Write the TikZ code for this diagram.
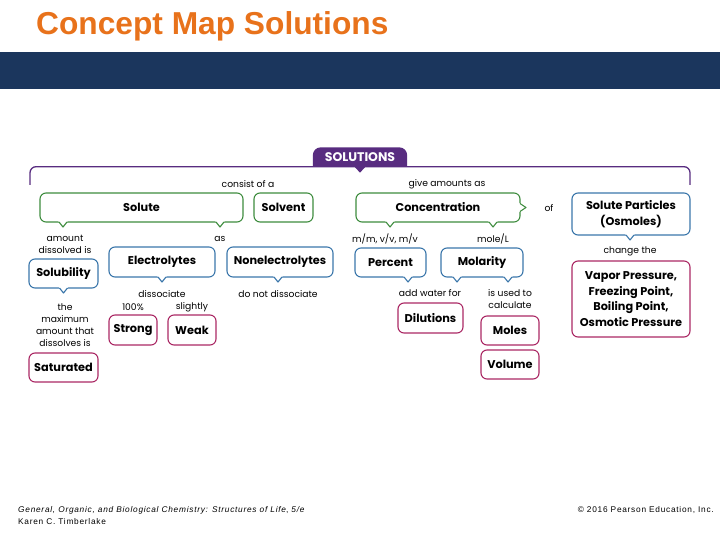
\documentclass[tikz,border=0pt]{standalone}
\usepackage{fontspec}
\setmainfont{Liberation Sans}
\newfontfamily\mapfont{Poppins}
\newfontfamily\footfont[LetterSpace=9]{Liberation Sans}
\usetikzlibrary{calc,backgrounds}

\definecolor{titleorange}{RGB}{232,114,27}
\definecolor{bandblue}{RGB}{27,54,93}
\definecolor{mapgreen}{RGB}{62,140,62}
\definecolor{mapblue}{RGB}{58,118,170}
\definecolor{mappink}{RGB}{170,40,100}
\definecolor{mappurple}{RGB}{88,44,128}

\tikzset{
	concept/.style={draw, rounded corners=6pt, line width=1.1pt, outer sep=0pt, inner sep=1pt, align=center, font=\mapfont\bfseries\fontsize{11.3}{15.5}\selectfont},
	greenbox/.style={concept, draw=mapgreen},
	bluebox/.style={concept, draw=mapblue},
	pinkbox/.style={concept, draw=mappink},
	linklabel/.style={inner sep=0pt, align=center, font=\mapfont\fontsize{9.2}{12}\selectfont},
}

% bottom pointer of a callout: node, offset from its south, colour
\newcommand{\notch}[3]{%
	\coordinate (tip) at ($(#1.south)+(#2,0)$);
	\fill[white] ($(tip)+(-4.6,-0.8)$) -- ($(tip)+(0,5.2)$) -- ($(tip)+(4.6,-0.8)$) -- cycle;
	\draw[#3, line width=1.1pt, line join=round] ($(tip)+(-4,0)$) -- ($(tip)+(0,5)$) -- ($(tip)+(4,0)$);
}
% right pointer of a callout: node, colour
\newcommand{\sidenotch}[2]{%
	\coordinate (tip) at (#1.east);
	\fill[white] ($(tip)+(-0.8,-4.6)$) -- ($(tip)+(6.2,0)$) -- ($(tip)+(-0.8,4.6)$) -- cycle;
	\draw[#2, line width=1.1pt, line join=round] ($(tip)+(0,-4)$) -- ($(tip)+(6,0)$) -- ($(tip)+(0,4)$);
}

\begin{document}
\begin{tikzpicture}[x=1pt,y=-1pt]
	\useasboundingbox (0,0) rectangle (720,540);

	% header and footer
	\node[anchor=base west, inner sep=0pt, text=titleorange, font=\bfseries\fontsize{31.7}{36}\selectfont] (title) at (36,35) {Concept Map Solutions};
	\fill[bandblue] (0,52) rectangle (720,89);
	\node[anchor=base west, inner sep=0pt, align=left, font=\footfont\fontsize{8.3}{12}\selectfont] (book) at (18,524) {\textit{General, Organic, and Biological Chemistry: Structures of Life}, \textit{5/e}\\Karen C. Timberlake};
	\node[anchor=base east, inner sep=0pt, font=\footfont\fontsize{8.3}{10}\selectfont] (copyright) at (714,512) {\textcopyright{} 2016 Pearson Education, Inc.};

	% top of the map
	\node[inner sep=0pt, minimum width=94pt, minimum height=19pt, text=white, font=\mapfont\bfseries\fontsize{12.5}{13}\selectfont] (solutions) at (360,157) {SOLUTIONS};
	\begin{scope}[on background layer]
		\fill[mappurple] (solutions.south west) [rounded corners=8pt] -- (solutions.north west) -- (solutions.north east) [sharp corners] -- (solutions.south east) -- cycle;
	\end{scope}
	\fill[mappurple] ($(solutions.south)+(-5.5,0)$) -- ($(solutions.south)+(0,6)$) -- ($(solutions.south)+(5.5,0)$) -- cycle;
	\coordinate (bracketL) at (30,185);
	\coordinate (bracketR) at (690,185);
	\draw[mappurple, line width=1.3pt, rounded corners=6pt] (bracketL) |- (solutions.south) -| (bracketR);

	% concepts
	\node[greenbox, minimum width=203pt, minimum height=29pt] (solute) at (141.5,207.5) {Solute};
	\node[greenbox, minimum width=59pt, minimum height=29pt] (solvent) at (283.5,207.5) {Solvent};
	\node[greenbox, minimum width=164pt, minimum height=29pt] (conc) at (438,207.5) {Concentration};
	\node[bluebox, minimum width=118pt, minimum height=42pt] (particles) at (631,214) {Solute Particles\\(Osmoles)};
	\node[bluebox, minimum width=69pt, minimum height=29pt] (solubility) at (63.5,273.5) {Solubility};
	\node[bluebox, minimum width=106pt, minimum height=30pt] (electro) at (162,262) {Electrolytes};
	\node[bluebox, minimum width=106pt, minimum height=30pt] (nonelectro) at (280,262) {Nonelectrolytes};
	\node[bluebox, minimum width=71pt, minimum height=29pt] (percent) at (390.5,262.5) {Percent};
	\node[bluebox, minimum width=82pt, minimum height=29pt] (molarity) at (482,262.5) {Molarity};
	\node[pinkbox, minimum width=118pt, minimum height=76pt] (vapor) at (631,299) {Vapor Pressure,\\Freezing Point,\\Boiling Point,\\Osmotic Pressure};
	\node[pinkbox, minimum width=48pt, minimum height=30pt] (strong) at (133,330) {Strong};
	\node[pinkbox, minimum width=48pt, minimum height=30pt] (weak) at (192,330) {Weak};
	\node[pinkbox, minimum width=69pt, minimum height=29pt] (saturated) at (63.5,367.5) {Saturated};
	\node[pinkbox, minimum width=65pt, minimum height=30pt] (dilutions) at (430.5,318) {Dilutions};
	\node[pinkbox, minimum width=58pt, minimum height=29pt] (moles) at (510,330.5) {Moles};
	\node[pinkbox, minimum width=58pt, minimum height=29pt] (volume) at (510,364.5) {Volume};

	% pointers
	\notch{solute}{-78.5}{mapgreen}
	\notch{solute}{78.5}{mapgreen}
	\notch{conc}{-48}{mapgreen}
	\notch{conc}{55}{mapgreen}
	\sidenotch{conc}{mapgreen}
	\notch{particles}{-1}{mapblue}
	\notch{solubility}{0}{mapblue}
	\notch{electro}{0}{mapblue}
	\notch{nonelectro}{-2}{mapblue}
	\notch{percent}{17.5}{mapblue}
	\notch{molarity}{-25}{mapblue}
	\notch{molarity}{26}{mapblue}

	% linking words
	\node[linklabel] (consist) at (248,184) {consist of a};
	\node[linklabel] (giveamounts) at (447,184) {give amounts as};
	\node[linklabel] (of) at (549,208) {of};
	\node[linklabel] (amount) at (65,244.5) {amount\\dissolved is};
	\node[linklabel] (as) at (220,239) {as};
	\node[linklabel] (mmv) at (385,239) {m/m, v/v, m/v};
	\node[linklabel] (molel) at (493,239) {mole/L};
	\node[linklabel] (change) at (630,251) {change the};
	\node[linklabel] (dissociate) at (162,294) {dissociate};
	\node[linklabel] (nodissociate) at (278,294) {do not dissociate};
	\node[linklabel] (hundred) at (133,307) {100\%};
	\node[linklabel] (slightly) at (192,307) {slightly};
	\node[linklabel] (maximum) at (65,325) {the\\maximum\\amount that\\dissolves is};
	\node[linklabel] (water) at (430,293) {add water for};
	\node[linklabel] (usedto) at (510,299.5) {is used to\\calculate};
\end{tikzpicture}
\end{document}
